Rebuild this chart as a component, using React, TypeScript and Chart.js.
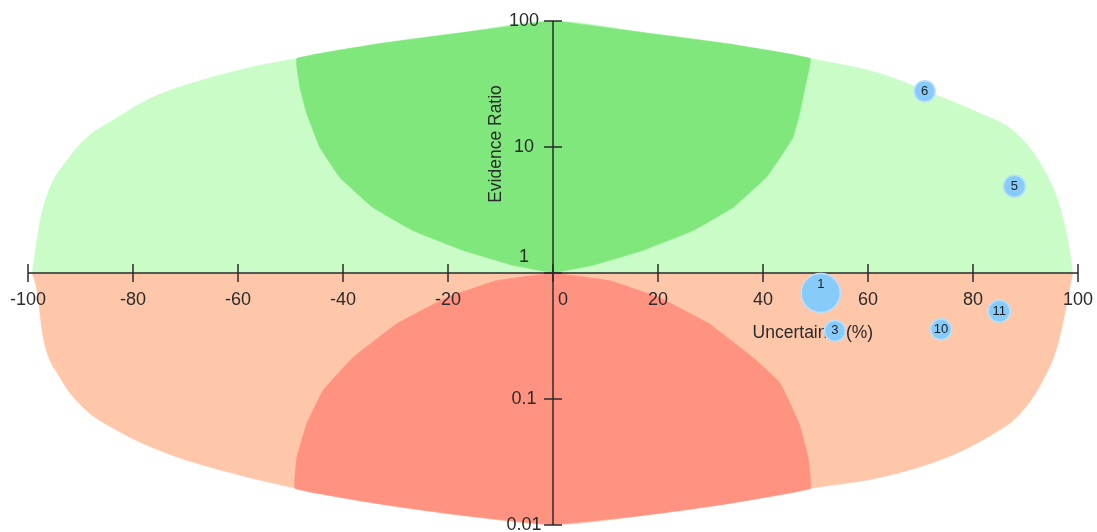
import React, { useEffect, useRef } from "react";
import { Chart, registerables } from "chart.js";

Chart.register(...registerables);

// ---- Bubble series (uncertainty %, evidence ratio, radius px, label) ----
const bubbleLabels = ["1", "3", "10", "11", "6", "5"];
const bubbleUncertainty = [51.0, 53.7, 73.9, 85.0, 70.8, 87.9];
const bubbleEvidence = [0.694, 0.347, 0.357, 0.497, 27.7, 4.88];
const bubbleRadius = [19.5, 10.5, 10.5, 11, 10.5, 11];

// ---- Axis ticks ----
const xTicks = [-100, -80, -60, -40, -20, 0, 20, 40, 60, 80, 100];
const xTickLabels = ["-100", "-80", "-60", "-40", "-20", "0", "20", "40", "60", "80", "100"];
const yTicks = [0.01, 0.1, 1, 10, 100];
const yTickLabels = ["0.01", "0.1", "1", "10", "100"];

const xTitle = "Uncertainty (%)";
const yTitle = "Evidence Ratio";

// ---- Background region outlines ----
const upperOuterX = [-99.2, -97.7, -95.8, -92.6, -88.8, -83, -76.8, -67.2, -57.7, -48.8, -33, -17.1, 0, 17.1, 33, 49, 62.3, 73.1, 81.3, 87.6, 92.8, 96.6, 98.5, 99];
const upperOuterY = [1, 2.61, 4.78, 7.82, 11.9, 17.1, 24.3, 33.7, 42.8, 50.4, 66.2, 81.1, 100, 81.1, 66.2, 50.4, 38.3, 25.7, 18.5, 13.5, 7.41, 3.31, 1.43, 1];

const lowerOuterX = [-99.2, -98.3, -97.1, -93.9, -89.5, -83, -73.5, -61, -48.8, -33, -17.1, 0, 17.1, 33, 49, 62.3, 75, 82.7, 89, 93.3, 96, 97.5, 99];
const lowerOuterY = [1, 0.726, 0.308, 0.148, 0.0857, 0.0562, 0.0369, 0.0257, 0.0195, 0.0147, 0.0119, 0.0101, 0.0119, 0.0147, 0.0195, 0.0238, 0.0344, 0.0495, 0.0767, 0.14, 0.257, 0.479, 1];

const innerGreenX = [0, -7.6, -17.1, -26.7, -34.3, -40.6, -44.4, -46.9, -48.2, -48.8, -33, -17.1, 0, 17.1, 33, 49, 48, 47, 45.7, 43.5, 40.6, 34.3, 26.7, 17.1, 7.6, 0];
const innerGreenY = [1, 1.15, 1.51, 2.17, 3.31, 5.73, 9.9, 18.4, 29.6, 50.4, 66.2, 81.1, 100, 81.1, 66.2, 50.4, 29.6, 18.4, 11.9, 8.5, 5.73, 3.31, 2.17, 1.51, 1.15, 1];

const innerRedX = [0, -10.7, -20.2, -29.7, -38.1, -43.8, -46.9, -48.8, -49.1, -33, -17.1, 0, 17.1, 33, 49, 48.6, 46.9, 43.2, 38.1, 29.7, 20.2, 10.7, 0];
const innerRedY = [1, 0.871, 0.639, 0.397, 0.213, 0.117, 0.064, 0.0343, 0.0195, 0.0147, 0.0119, 0.0101, 0.0119, 0.0147, 0.0195, 0.0343, 0.064, 0.135, 0.213, 0.397, 0.639, 0.871, 1];

const LIGHT_GREEN = "rgb(201,252,199)";
const DARK_GREEN = "rgb(128,231,124)";
const LIGHT_RED = "rgb(255,199,170)";
const DARK_RED = "rgb(255,146,128)";
const BUBBLE_FILL = "rgb(135,203,250)";
const BUBBLE_EDGE = "rgb(185,224,252)";
const AXIS_COLOR = "#2a2a2a";
const TEXT_COLOR = "#2b2b2b";
const FONT = '"Liberation Sans", Arial, sans-serif';

const BUBBLE_INDEX = 0;

const zip = (xs: number[], ys: number[]) => xs.map((x, i) => ({ x, y: ys[i] }));

const regionDataset = (xs: number[], ys: number[], color: string, order: number, smooth: boolean) => ({
  type: "line" as const,
  data: zip(xs, ys),
  backgroundColor: color,
  borderColor: color,
  borderWidth: 0.5,
  pointRadius: 0,
  pointHoverRadius: 0,
  tension: smooth ? 0.4 : 0.08,
  cubicInterpolationMode: smooth ? "monotone" : "default",
  fill: "shape",
  clip: false as any,
  order,
});

const axesPlugin = {
  id: "crossAxes",
  beforeDatasetDraw(chart: any, args: any) {
    if (args.index !== BUBBLE_INDEX) return;
    const ctx: CanvasRenderingContext2D = chart.ctx;
    const xs = chart.scales.x;
    const ys = chart.scales.y;
    const y0 = ys.getPixelForValue(1);
    const x0 = xs.getPixelForValue(0);
    ctx.save();
    ctx.strokeStyle = AXIS_COLOR;
    ctx.lineWidth = 1.5;
    // x axis
    ctx.beginPath();
    ctx.moveTo(xs.getPixelForValue(-100), y0);
    ctx.lineTo(xs.getPixelForValue(100), y0);
    ctx.stroke();
    xTicks.forEach((v) => {
      const px = xs.getPixelForValue(v);
      ctx.beginPath();
      ctx.moveTo(px, y0 - 9);
      ctx.lineTo(px, y0 + 9);
      ctx.stroke();
    });
    // y axis
    ctx.beginPath();
    ctx.moveTo(x0, ys.getPixelForValue(100));
    ctx.lineTo(x0, ys.getPixelForValue(0.01));
    ctx.stroke();
    yTicks.forEach((v) => {
      const py = ys.getPixelForValue(v);
      ctx.beginPath();
      ctx.moveTo(x0 - 9, py);
      ctx.lineTo(x0 + 9, py);
      ctx.stroke();
    });

    // tick labels
    ctx.fillStyle = TEXT_COLOR;
    ctx.font = "18px " + FONT;
    ctx.textAlign = "center";
    ctx.textBaseline = "middle";
    xTicks.forEach((v, i) => {
      let px = xs.getPixelForValue(v);
      if (v === 0) px += 10;
      ctx.fillText(xTickLabels[i], px, y0 + 27);
    });
    yTicks.forEach((v, i) => {
      let py = ys.getPixelForValue(v);
      if (v === 1) py -= 16;
      ctx.fillText(yTickLabels[i], x0 - 29, py);
    });

    // axis titles
    ctx.font = "17.5px " + FONT;
    ctx.fillText(xTitle, xs.getPixelForValue(49.5), y0 + 60);
    ctx.save();
    ctx.translate(x0 - 57, ys.getPixelForValue(10) - 3);
    ctx.rotate(-Math.PI / 2);
    ctx.fillText(yTitle, 0, 0);
    ctx.restore();
    ctx.restore();
  },
  afterDatasetsDraw(chart: any) {
    const ctx: CanvasRenderingContext2D = chart.ctx;
    const meta = chart.getDatasetMeta(BUBBLE_INDEX);
    ctx.save();
    ctx.fillStyle = "#1c1c1c";
    ctx.font = "13px " + FONT;
    ctx.textAlign = "center";
    ctx.textBaseline = "middle";
    meta.data.forEach((el: any, i: number) => {
      const r = bubbleRadius[i];
      const off = Math.max(0, r - 11);
      ctx.fillText(bubbleLabels[i], el.x, el.y - off);
    });
    ctx.restore();
  },
};

export default function App() {
  const canvasRef = useRef<HTMLCanvasElement | null>(null);

  useEffect(() => {
    if (!canvasRef.current) return;
    const chart = new Chart(canvasRef.current, {
      type: "scatter",
      data: {
        datasets: [
          {
            type: "bubble",
            data: bubbleUncertainty.map((x, i) => ({ x, y: bubbleEvidence[i], r: bubbleRadius[i] })),
            backgroundColor: BUBBLE_FILL,
            borderColor: BUBBLE_EDGE,
            borderWidth: 1.5,
            hoverRadius: 0,
            clip: false as any,
            order: 0,
          } as any,
          regionDataset(innerGreenX, innerGreenY, DARK_GREEN, 1, false),
          regionDataset(innerRedX, innerRedY, DARK_RED, 1, false),
          regionDataset(upperOuterX, upperOuterY, LIGHT_GREEN, 2, true),
          regionDataset(lowerOuterX, lowerOuterY, LIGHT_RED, 2, true),
        ] as any,
      },
      options: {
        animation: false,
        responsive: false,
        devicePixelRatio: 1,
        events: [],
        layout: { autoPadding: false, padding: { left: 28, right: 19, top: 21, bottom: 7 } },
        plugins: {
          legend: { display: false },
          tooltip: { enabled: false },
          title: { display: false },
        },
        scales: {
          x: { type: "linear", min: -100, max: 100, display: false },
          y: { type: "logarithmic", min: 0.01, max: 100, display: false },
        },
      } as any,
      plugins: [axesPlugin],
    });
    return () => chart.destroy();
  }, []);

  return (
    <div style={{ position: "absolute", left: 0, top: 0, width: 1097, height: 532, background: "#fff" }}>
      <canvas ref={canvasRef} width={1097} height={532} style={{ display: "block" }} />
    </div>
  );
}
